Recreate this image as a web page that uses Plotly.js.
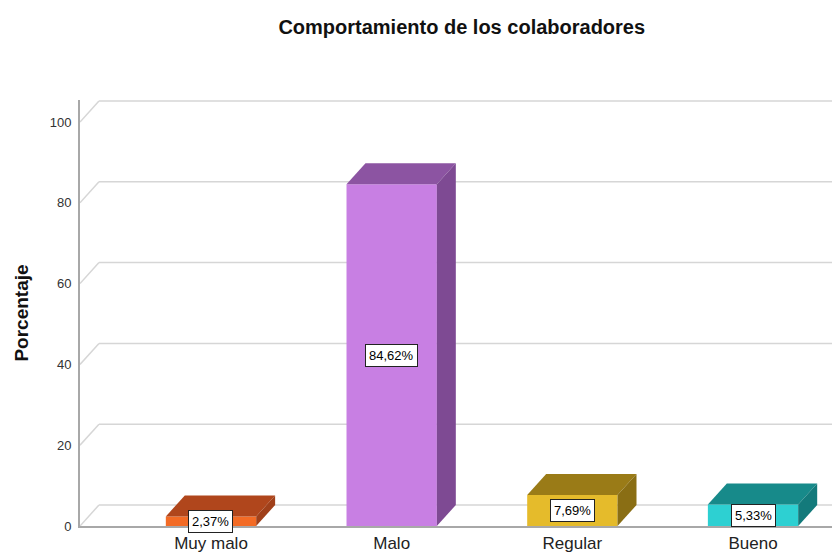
<!DOCTYPE html>
<html>
<head>
<meta charset="utf-8">
<script src="https://cdn.plot.ly/plotly-3.0.1.min.js"></script>
<style>
  html, body { margin: 0; padding: 0; background: #ffffff; }
  #chart { width: 832px; height: 554px; }
</style>
</head>
<body>
<div id="chart"></div>
<script>
// Survey results: behaviour of the staff, share of answers per rating
const categories = ['Muy malo', 'Malo', 'Regular', 'Bueno'];
const percentages = [2.37, 84.62, 7.69, 5.33];
const yTicks = [0, 20, 40, 60, 80, 100];

// Face colours of each pseudo-3D bar
const frontColors = ['#F36B25', '#C87FE3', '#E5BB2B', '#2DD0D2'];
const topColors   = ['#B0461C', '#8C54A2', '#9A7B17', '#178A8A'];
const sideColors  = ['#A0401A', '#7E4A93', '#8A6E14', '#137A7B'];

// Axis extents and the depth offset used for the 3D look (in axis units)
const xRange = [-0.725, 3.437];
const yRange = [0, 105.45];
const barWidth = 0.5;
const depthX = 0.105;
const depthY = 5.2;

const fmt = v => v.toFixed(2).replace('.', ',') + '%';
const xs = categories.map((_, i) => i);

const traces = [];

// Front faces
traces.push({
  type: 'bar',
  x: xs,
  y: percentages,
  width: barWidth,
  marker: { color: frontColors, line: { width: 0 } },
  hoverinfo: 'skip',
  showlegend: false
});

// Top and side faces
percentages.forEach((v, i) => {
  const l = i - barWidth / 2, r = i + barWidth / 2;
  traces.push({
    type: 'scatter', mode: 'lines', fill: 'toself',
    x: [l, l + depthX, r + depthX, r, l],
    y: [v, v + depthY, v + depthY, v, v],
    fillcolor: topColors[i], line: { width: 0 },
    hoverinfo: 'skip', showlegend: false
  });
  traces.push({
    type: 'scatter', mode: 'lines', fill: 'toself',
    x: [r, r + depthX, r + depthX, r, r],
    y: [0, depthY, v + depthY, v, 0],
    fillcolor: sideColors[i], line: { width: 0 },
    hoverinfo: 'skip', showlegend: false
  });
});

// Back-wall gridlines with the short diagonal joining them to the front axis
const shapes = [];
yTicks.forEach(v => {
  const line = { color: '#D6D6D6', width: 1.5 };
  shapes.push({ type: 'line', layer: 'below', xref: 'x', yref: 'y',
    x0: xRange[0], y0: v, x1: xRange[0] + depthX, y1: v + depthY, line });
  shapes.push({ type: 'line', layer: 'below', xref: 'x', yref: 'y',
    x0: xRange[0] + depthX, y0: v + depthY, x1: xRange[1], y1: v + depthY, line });
});

// Value boxes in the middle of each bar
const annotations = percentages.map((v, i) => ({
  x: i, y: v / 2, xref: 'x', yref: 'y',
  text: fmt(v), showarrow: false,
  font: { family: 'Liberation Sans, Arial, sans-serif', size: 13, color: '#000' },
  bgcolor: '#ffffff', bordercolor: '#222222', borderwidth: 1, borderpad: 3
}));

const layout = {
  width: 832, height: 554,
  margin: { l: 80, r: 0, t: 100, b: 28 },
  paper_bgcolor: '#ffffff', plot_bgcolor: '#ffffff',
  font: { family: 'Liberation Sans, Arial, sans-serif', color: '#222' },
  title: {
    text: 'Comportamiento de los colaboradores',
    font: { family: 'Liberation Sans, Arial, sans-serif', size: 20, weight: 700, color: '#111' },
    xref: 'container', x: 0.555, xanchor: 'center',
    yref: 'container', y: 1 - 27 / 554, yanchor: 'middle'
  },
  xaxis: {
    type: 'linear', range: xRange, fixedrange: true,
    tickvals: xs, ticktext: categories,
    tickfont: { size: 17, color: '#222' },
    showgrid: false, zeroline: false,
    showline: true, linecolor: '#A8A8A8', linewidth: 2,
    ticks: '', ticklabelstandoff: 1
  },
  yaxis: {
    range: yRange, fixedrange: true,
    tickvals: yTicks,
    tickfont: { size: 13, color: '#333' },
    showgrid: false, zeroline: false,
    showline: true, linecolor: '#A8A8A8', linewidth: 2,
    ticks: '', ticklabelstandoff: 4,
    title: {
      text: 'Porcentaje', standoff: 16,
      font: { size: 19, weight: 700, color: '#111' }
    }
  },
  shapes: shapes,
  annotations: annotations,
  showlegend: false
};

Plotly.newPlot('chart', traces, layout, { staticPlot: true, displayModeBar: false });
</script>
</body>
</html>
